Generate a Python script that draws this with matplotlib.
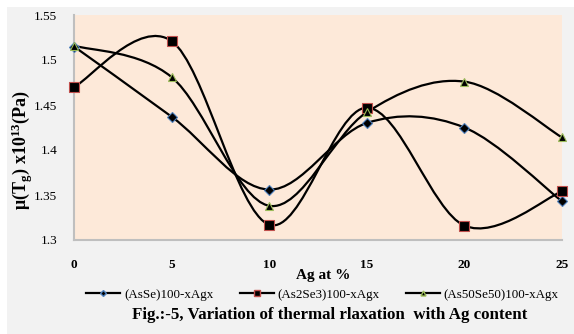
import numpy as np
import matplotlib
matplotlib.use('Agg')
import matplotlib.pyplot as plt
from matplotlib.path import Path
from matplotlib.patches import PathPatch, Rectangle

# data
ag = [0, 5, 10, 15, 20, 25]
asse = [1.515, 1.437, 1.356, 1.430, 1.425, 1.343]
as2se3 = [1.470, 1.521, 1.317, 1.447, 1.316, 1.354]
as50se50 = [1.516, 1.481, 1.338, 1.442, 1.476, 1.414]
labels = ['(AsSe)100-xAgx', '(As2Se3)100-xAgx', '(As50Se50)100-xAgx']
yticks = [1.3, 1.35, 1.4, 1.45, 1.5, 1.55]
yticklabels = ['1.3', '1.35', '1.4', '1.45', '1.5', '1.55']

plt.rcParams['font.family'] = 'Liberation Serif'
plt.rcParams['mathtext.fontset'] = 'custom'
plt.rcParams['mathtext.rm'] = 'Liberation Serif:bold'
plt.rcParams['mathtext.bf'] = 'Liberation Serif:bold'
plt.rcParams['mathtext.it'] = 'Liberation Serif:bold'


def smooth_path(x, y):
    # excel-like smoothed line: cubic bezier through the points
    p = np.column_stack([x, y]).astype(float)
    ext = np.vstack([p[0], p, p[-1]])
    verts = [p[0]]
    codes = [Path.MOVETO]
    for i in range(len(p) - 1):
        c1 = p[i] + (ext[i + 2] - ext[i]) / 6
        c2 = p[i + 1] - (ext[i + 3] - ext[i + 1]) / 6
        verts += [c1, c2, p[i + 1]]
        codes += [Path.CURVE4] * 3
    return Path(verts, codes)


fig = plt.figure(figsize=(5.74, 3.34), dpi=100)
fig.patch.set_facecolor('white')
fig.patches.append(Rectangle((7 / 574, 0), 1, 1 - 7 / 334, transform=fig.transFigure,
                             facecolor='#f2f2f2', edgecolor='none', zorder=-10))

ax = fig.add_axes([74 / 574, 94 / 334, 488 / 574, 225 / 334])
ax.set_facecolor('#fde9d9')

series = [asse, as2se3, as50se50]
markers = ['D', 's', '^']
sizes = [5, 6.5, 6]
edges = ['#4f81bd', '#c0504d', '#9bbb59']

for vals, m, ms, ec, lab in zip(series, markers, sizes, edges, labels):
    ax.add_patch(PathPatch(smooth_path(ag, vals), facecolor='none',
                           edgecolor='black', lw=1.6, zorder=2))
    ax.plot(ag, vals, linestyle='none', marker=m, markersize=ms,
            markerfacecolor='black', markeredgecolor=ec, markeredgewidth=0.8,
            zorder=3, clip_on=False)
    # legend handle
    ax.plot([], [], color='black', lw=1.6, marker=m, markersize=ms * 0.6,
            markerfacecolor='black', markeredgecolor=ec, label=lab)

ax.set_xlim(0, 25)
ax.set_ylim(1.3, 1.55)
ax.set_xticks(ag)
ax.set_xticklabels([str(v) for v in ag], fontweight='bold', fontsize=9.5)
ax.set_yticks(yticks)
ax.set_yticklabels(yticklabels, fontsize=9.5)
ax.tick_params(length=0)
ax.tick_params(axis='x', pad=14)
ax.tick_params(axis='y', pad=12)
for s in ['top', 'right']:
    ax.spines[s].set_visible(False)
for s in ['left', 'bottom']:
    ax.spines[s].set_color('#bfbfbf')
    ax.spines[s].set_linewidth(1.5)

ax.set_xlabel('Ag at %', fontweight='bold', fontsize=11)
ax.xaxis.set_label_coords(0.51, -0.13)
ax.set_ylabel(r'$\mathbf{\mu(T_{g})\ x10^{13}(Pa)}$', fontsize=13)
ax.yaxis.set_label_coords(-0.08, 0.40)

fig.legend(loc='center', bbox_to_anchor=(0.562, 0.118), ncol=3, frameon=False,
           fontsize=9.4, handlelength=2.6, columnspacing=2.0, handletextpad=0.3)

fig.text(0.575, 0.057, 'Fig.:-5, Variation of thermal rlaxation  with Ag content',
         ha='center', va='center', fontweight='bold', fontsize=12.2)

fig.savefig('out.png', dpi=100)
